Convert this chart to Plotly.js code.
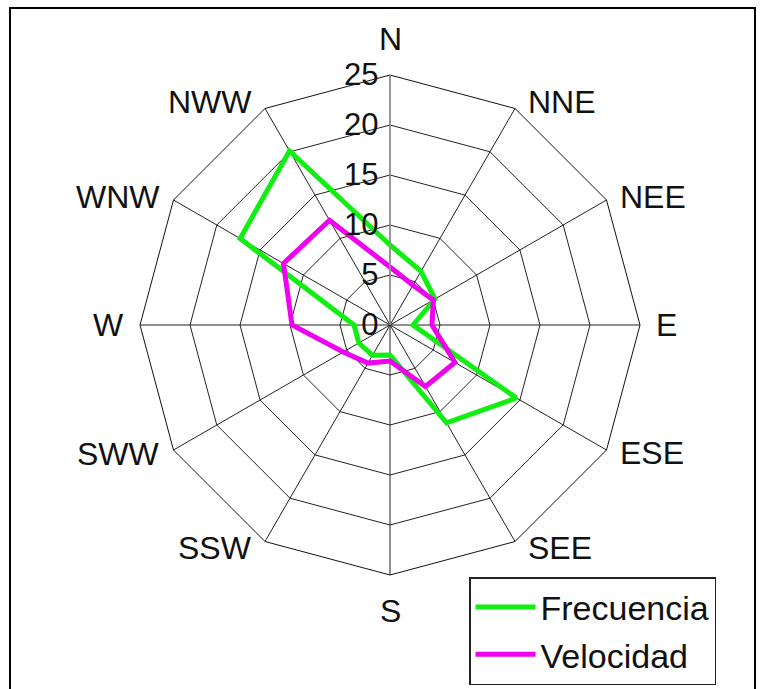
<!DOCTYPE html>
<html>
<head>
<meta charset="utf-8">
<script src="https://cdn.plot.ly/plotly-3.0.1.min.js"></script>
<style>html,body{margin:0;padding:0;background:#fff;}#chart{width:760px;height:689px;}</style>
</head>
<body>
<div id="chart"></div>
<script>
var directions = ["N","NNE","NEE","E","ESE","SEE","S","SSW","SWW","W","WNW","NWW"];
var frecuencia = [8.0, 6.2, 5.2, 2.3, 14.6, 11.3, 3.0, 3.5, 3.6, 3.6, 17.3, 20.1];
var velocidad  = [5.8, 4.6, 5.0, 4.2, 7.5, 7.1, 3.6, 4.4, 5.4, 9.8, 12.3, 12.1];
var radialTicks = [0, 5, 10, 15, 20, 25];

function closeLoop(arr){ return arr.concat([arr[0]]); }

var traces = [
  {type:'scatterpolar', mode:'lines', name:'Frecuencia',
   theta: closeLoop(directions), r: closeLoop(frecuencia),
   line:{color:'#11ee11', width:5}},
  {type:'scatterpolar', mode:'lines', name:'Velocidad',
   theta: closeLoop(directions), r: closeLoop(velocidad),
   line:{color:'#f000f0', width:5}}
];

var W = 760, H = 689, cx = 390, cy = 325, R = 250;

// direction labels placed just outside each vertex of the outer ring
var annotations = directions.map(function(name, i){
  var a = i * 2 * Math.PI / directions.length;
  var s = Math.sin(a), c = Math.cos(a);
  var vx = cx + R * s, vy = cy - R * c;
  var px, py, xa;
  if (Math.abs(s) < 0.1) {
    px = vx; py = vy - c * 36; xa = 'center';
  } else {
    var gap = Math.abs(c) < 0.1 ? 14 : 11;
    px = vx + (s > 0 ? gap : -gap); py = vy - c * 7; xa = s > 0 ? 'left' : 'right';
  }
  return {text:name, showarrow:false, xref:'paper', yref:'paper',
          x:px / W, y:1 - py / H, xanchor:xa, yanchor:'middle',
          font:{size:32, color:'#111'}};
});

var layout = {
  width: W, height: H,
  margin:{l:0,r:0,t:0,b:0},
  paper_bgcolor:'#fff',
  font:{family:'"Liberation Sans", Arial, sans-serif', size:30, color:'#111'},
  showlegend:true,
  legend:{x:469/W, y:1-577/H, xanchor:'left', yanchor:'top',
          bordercolor:'#222', borderwidth:1.5, bgcolor:'#fff',
          itemwidth:60,
          font:{size:34, color:'#111'}},
  polar:{
    domain:{x:[(cx-R)/W,(cx+R)/W], y:[(H-cy-R)/H,(H-cy+R)/H]},
    bgcolor:'#fff',
    gridshape:'linear',
    angularaxis:{type:'category', categoryarray:directions, categoryorder:'array',
      direction:'clockwise', rotation:90,
      showline:true, linecolor:'#111', linewidth:1,
      gridcolor:'#222', gridwidth:1, ticks:'', showticklabels:false},
    radialaxis:{range:[0,25], tickvals:radialTicks, ticktext:radialTicks.map(String),
      angle:90, tickangle:90, side:'counterclockwise',
      showline:true, linecolor:'#999', linewidth:1.5,
      gridcolor:'#222', gridwidth:1, ticks:'',
      tickfont:{size:31, color:'#111'}}
  },
  annotations: annotations,
  shapes:[{type:'rect', xref:'paper', yref:'paper',
    x0:10/W, x1:755/W, y0:-0.05, y1:1-8/H,
    line:{color:'#000', width:2}}]
};

Plotly.newPlot('chart', traces, layout, {displayModeBar:false, staticPlot:true});
</script>
</body>
</html>
